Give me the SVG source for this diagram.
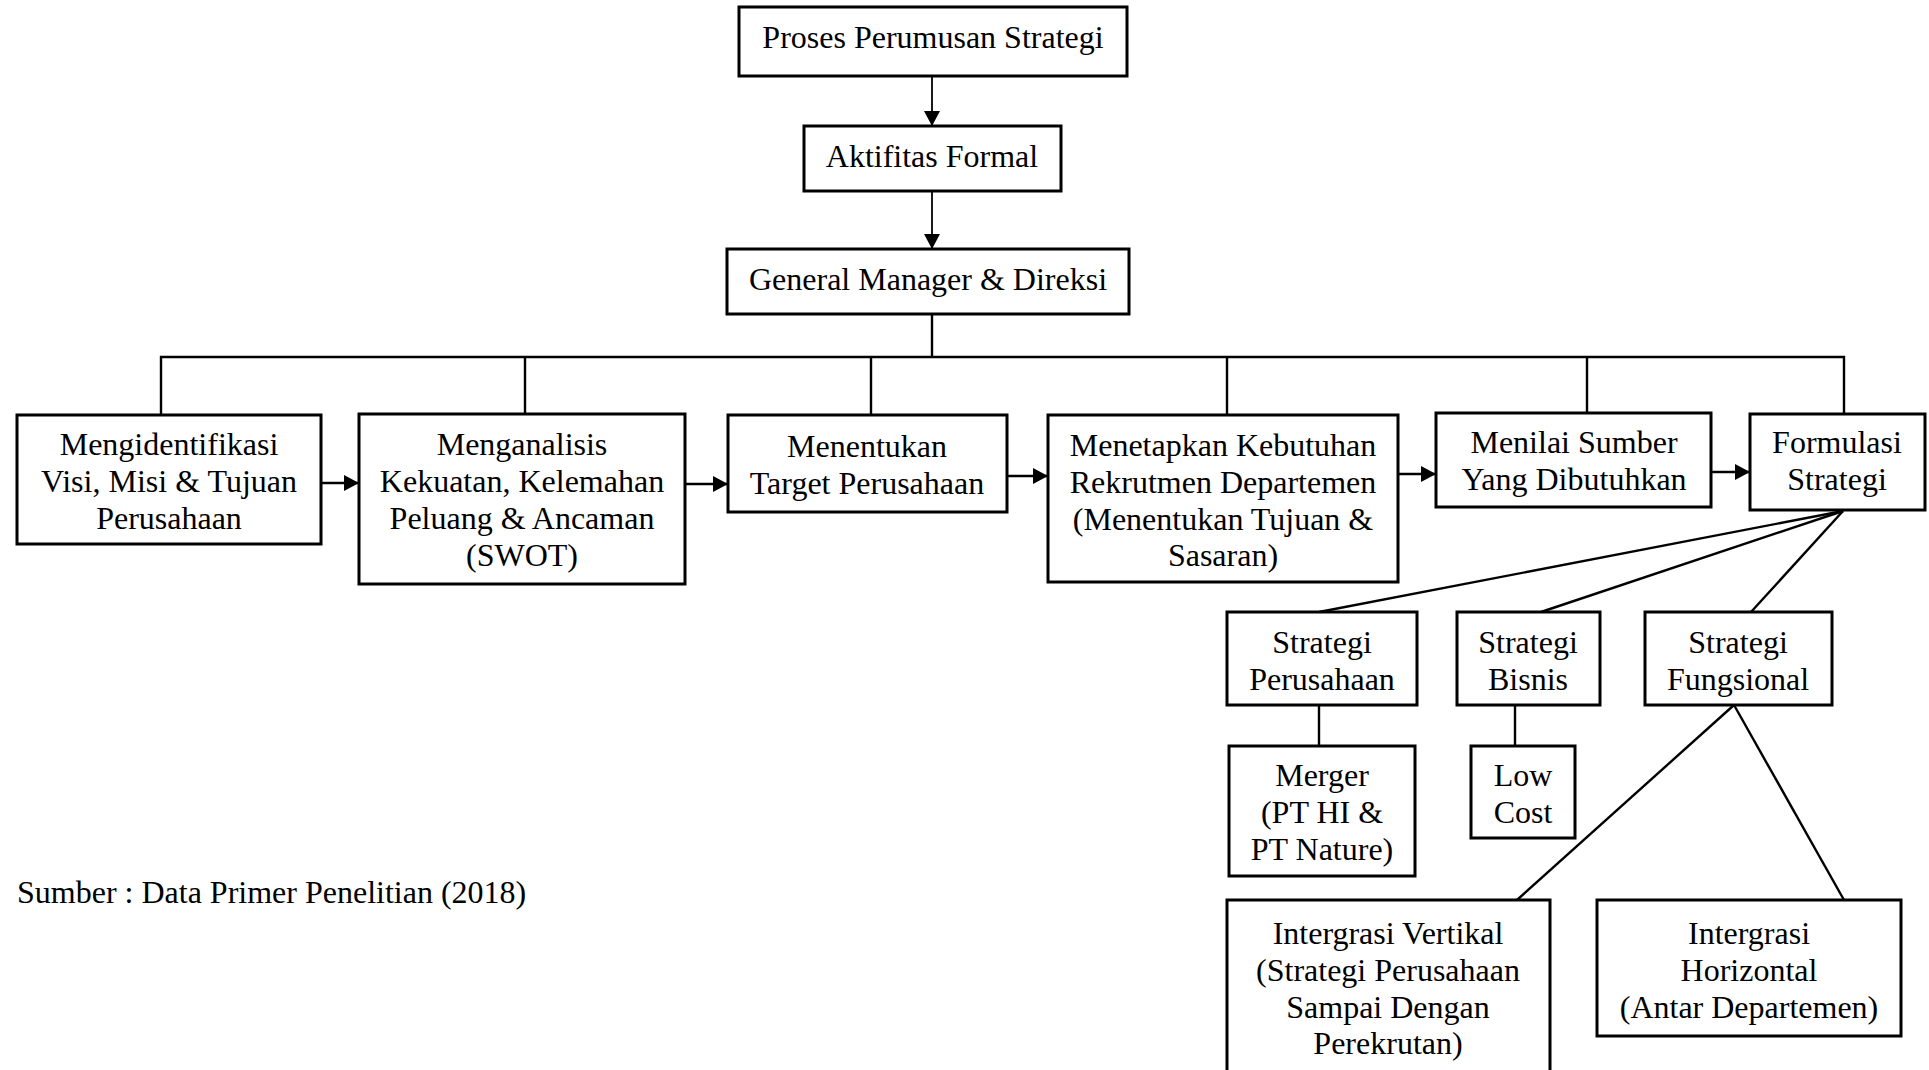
<svg xmlns="http://www.w3.org/2000/svg" width="1929" height="1070" viewBox="0 0 1929 1070">
  <style>
    .box { fill: #ffffff; stroke: #000000; stroke-width: 3; }
    .lbl { font-family: "Liberation Serif", "Times New Roman", serif; font-size: 32px; fill: #000000; text-anchor: middle; }
    .note { font-family: "Liberation Serif", "Times New Roman", serif; font-size: 32px; fill: #000000; }
    .wire { fill: none; stroke: #000000; stroke-width: 2.4; }
    .flow { fill: none; stroke: #000000; stroke-width: 2.6; marker-end: url(#head); }
    .drop { fill: none; stroke: #000000; stroke-width: 1.8; marker-end: url(#head); }
  </style>
  <defs>
    <marker id="head" markerUnits="userSpaceOnUse" markerWidth="15" markerHeight="16" refX="15" refY="8" orient="auto">
      <path d="M0,0 L15,8 L0,16 Z" fill="#000000"/>
    </marker>
  </defs>
  <rect width="1929" height="1070" fill="#ffffff"/>

  <!-- connectors -->
  <g id="connectors">
    <!-- top chain -->
    <line class="drop" x1="932" y1="76" x2="932" y2="126"/>
    <line class="drop" x1="932" y1="191" x2="932" y2="249"/>
    <!-- bus from General Manager to the six steps -->
    <line class="wire" x1="932" y1="314" x2="932" y2="357"/>
    <polyline class="wire" points="161,415 161,357 1844,357 1844,414"/>
    <line class="wire" x1="525" y1="357" x2="525" y2="414"/>
    <line class="wire" x1="871" y1="357" x2="871" y2="415"/>
    <line class="wire" x1="1227" y1="357" x2="1227" y2="415"/>
    <line class="wire" x1="1587" y1="357" x2="1587" y2="413"/>
    <!-- step arrows -->
    <line class="flow" x1="321" y1="483" x2="359" y2="483"/>
    <line class="flow" x1="685" y1="484" x2="728" y2="484"/>
    <line class="flow" x1="1007" y1="476" x2="1048" y2="476"/>
    <line class="flow" x1="1398" y1="474" x2="1436" y2="474"/>
    <line class="flow" x1="1711" y1="472" x2="1750" y2="472"/>
    <!-- fan out from Formulasi Strategi -->
    <line class="wire" x1="1843" y1="511" x2="1319" y2="612"/>
    <line class="wire" x1="1843" y1="511" x2="1541" y2="612"/>
    <line class="wire" x1="1843" y1="511" x2="1751" y2="612"/>
    <!-- level below -->
    <line class="wire" x1="1319" y1="705" x2="1319" y2="746"/>
    <line class="wire" x1="1515" y1="705" x2="1515" y2="746"/>
    <line class="wire" x1="1734" y1="705" x2="1517" y2="900"/>
    <line class="wire" x1="1734" y1="705" x2="1844" y2="900"/>
  </g>

  <g id="n-proses">
    <rect class="box" x="739" y="7" width="388" height="69"/>
    <text class="lbl" x="933" y="48">Proses Perumusan Strategi</text>
  </g>
  <g id="n-aktifitas">
    <rect class="box" x="804" y="126" width="257" height="65"/>
    <text class="lbl" x="932" y="167">Aktifitas Formal</text>
  </g>
  <g id="n-gm">
    <rect class="box" x="727" y="249" width="402" height="65"/>
    <text class="lbl" x="928" y="290">General Manager &amp; Direksi</text>
  </g>

  <g id="n-visi">
    <rect class="box" x="17" y="415" width="304" height="129"/>
    <text class="lbl" x="169" y="455">Mengidentifikasi</text>
    <text class="lbl" x="169" y="492">Visi, Misi &amp; Tujuan</text>
    <text class="lbl" x="169" y="529">Perusahaan</text>
  </g>
  <g id="n-swot">
    <rect class="box" x="359" y="414" width="326" height="170"/>
    <text class="lbl" x="522" y="455">Menganalisis</text>
    <text class="lbl" x="522" y="492">Kekuatan, Kelemahan</text>
    <text class="lbl" x="522" y="529">Peluang &amp; Ancaman</text>
    <text class="lbl" x="522" y="566">(SWOT)</text>
  </g>
  <g id="n-target">
    <rect class="box" x="728" y="415" width="279" height="97"/>
    <text class="lbl" x="867" y="457">Menentukan</text>
    <text class="lbl" x="867" y="494">Target Perusahaan</text>
  </g>
  <g id="n-rekrutmen">
    <rect class="box" x="1048" y="415" width="350" height="167"/>
    <text class="lbl" x="1223" y="456">Menetapkan Kebutuhan</text>
    <text class="lbl" x="1223" y="493">Rekrutmen Departemen</text>
    <text class="lbl" x="1223" y="530">(Menentukan Tujuan &amp;</text>
    <text class="lbl" x="1223" y="566">Sasaran)</text>
  </g>
  <g id="n-sumber">
    <rect class="box" x="1436" y="413" width="275" height="94"/>
    <text class="lbl" x="1574" y="453">Menilai Sumber</text>
    <text class="lbl" x="1574" y="490">Yang Dibutuhkan</text>
  </g>
  <g id="n-formulasi">
    <rect class="box" x="1750" y="414" width="175" height="96"/>
    <text class="lbl" x="1837" y="453">Formulasi</text>
    <text class="lbl" x="1837" y="490">Strategi</text>
  </g>

  <g id="n-perusahaan">
    <rect class="box" x="1227" y="612" width="190" height="93"/>
    <text class="lbl" x="1322" y="653">Strategi</text>
    <text class="lbl" x="1322" y="690">Perusahaan</text>
  </g>
  <g id="n-bisnis">
    <rect class="box" x="1457" y="612" width="143" height="93"/>
    <text class="lbl" x="1528" y="653">Strategi</text>
    <text class="lbl" x="1528" y="690">Bisnis</text>
  </g>
  <g id="n-fungsional">
    <rect class="box" x="1645" y="612" width="187" height="93"/>
    <text class="lbl" x="1738" y="653">Strategi</text>
    <text class="lbl" x="1738" y="690">Fungsional</text>
  </g>

  <g id="n-merger">
    <rect class="box" x="1229" y="746" width="186" height="130"/>
    <text class="lbl" x="1322" y="786">Merger</text>
    <text class="lbl" x="1322" y="823">(PT HI &amp;</text>
    <text class="lbl" x="1322" y="860">PT Nature)</text>
  </g>
  <g id="n-lowcost">
    <rect class="box" x="1471" y="746" width="104" height="92"/>
    <text class="lbl" x="1523" y="786">Low</text>
    <text class="lbl" x="1523" y="823">Cost</text>
  </g>

  <g id="n-vertikal">
    <rect class="box" x="1227" y="900" width="323" height="190"/>
    <text class="lbl" x="1388" y="944">Intergrasi Vertikal</text>
    <text class="lbl" x="1388" y="981">(Strategi Perusahaan</text>
    <text class="lbl" x="1388" y="1018">Sampai Dengan</text>
    <text class="lbl" x="1388" y="1054">Perekrutan)</text>
  </g>
  <g id="n-horizontal">
    <rect class="box" x="1597" y="900" width="304" height="136"/>
    <text class="lbl" x="1749" y="944">Intergrasi</text>
    <text class="lbl" x="1749" y="981">Horizontal</text>
    <text class="lbl" x="1749" y="1018">(Antar Departemen)</text>
  </g>

  <text class="note" x="17" y="903">Sumber : Data Primer Penelitian (2018)</text>
</svg>
